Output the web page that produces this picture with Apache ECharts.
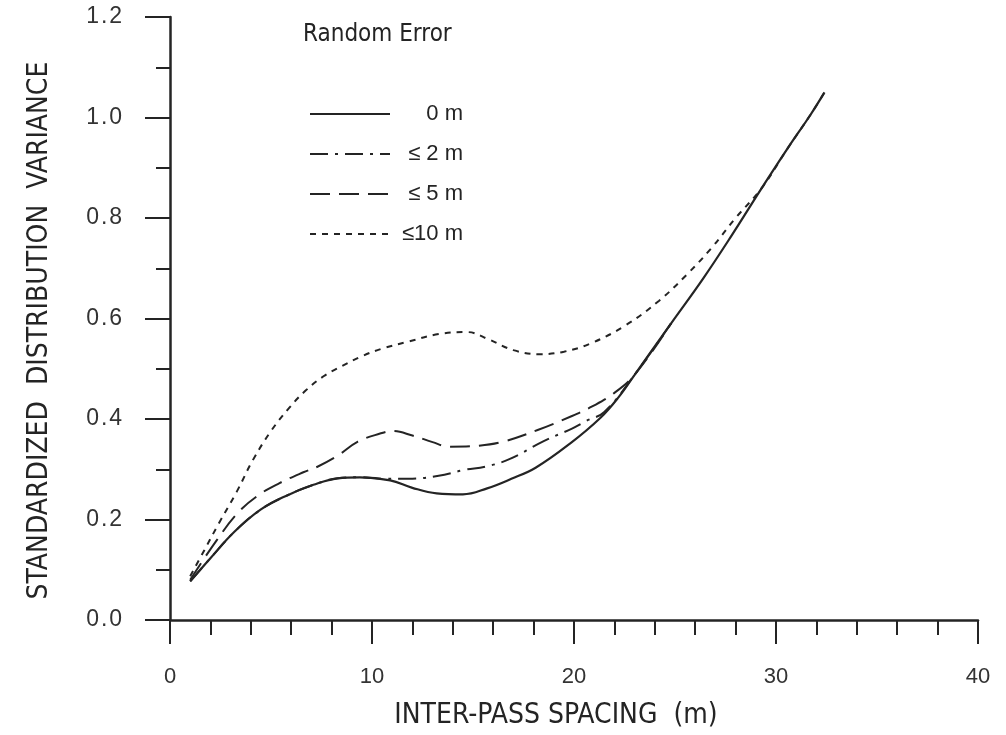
<!DOCTYPE html>
<html>
<head>
<meta charset="utf-8">
<title>Standardized distribution variance vs inter-pass spacing</title>
<script src="https://cdn.jsdelivr.net/npm/echarts@6/dist/echarts.min.js"></script>
<style>
  html, body { margin: 0; padding: 0; background: #fff; }
  #chart { width: 1006px; height: 735px; }
</style>
</head>
<body>
<div id="chart"></div>
<script>
// Random error 0 m
const spacing0 = [1.0, 2.0, 3.2, 4.5, 5.8, 7.1, 8.3, 9.4, 10.9, 12.0, 13.2, 14.5, 15.7, 16.9, 18.1, 19.8, 21.3, 22.2, 23.0, 24.8, 26.4, 27.8, 29.3, 30.6, 31.7, 32.4];
const variance0 = [0.077, 0.123, 0.176, 0.220, 0.248, 0.269, 0.282, 0.284, 0.278, 0.263, 0.252, 0.250, 0.262, 0.281, 0.303, 0.351, 0.402, 0.443, 0.488, 0.590, 0.680, 0.765, 0.860, 0.940, 1.005, 1.050];

// Random error <= 2 m
const spacing2 = [1.0, 2.0, 3.2, 4.5, 5.8, 7.1, 8.3, 9.4, 10.6, 11.8, 13.3, 14.6, 15.6, 16.8, 18.5, 19.9, 20.6, 21.5, 23.0, 24.8];
const variance2 = [0.077, 0.123, 0.176, 0.220, 0.248, 0.269, 0.282, 0.284, 0.281, 0.281, 0.287, 0.299, 0.305, 0.320, 0.356, 0.381, 0.396, 0.414, 0.488, 0.590];

// Random error <= 5 m
const spacing5 = [1.0, 2.3, 3.4, 4.4, 5.4, 6.6, 7.3, 8.3, 9.3, 10.4, 11.0, 12.0, 13.0, 13.8, 15.3, 16.5, 18.2, 19.9, 20.9, 21.9, 23.0, 24.8];
const variance5 = [0.080, 0.158, 0.215, 0.249, 0.272, 0.294, 0.305, 0.327, 0.355, 0.371, 0.376, 0.367, 0.354, 0.345, 0.347, 0.355, 0.378, 0.406, 0.425, 0.449, 0.488, 0.590];

// Random error <= 10 m
const spacing10 = [1.0, 1.7, 2.4, 3.3, 4.1, 5.0, 5.9, 6.7, 7.6, 8.5, 9.5, 10.5, 11.8, 13.3, 14.7, 15.8, 17.0, 18.3, 19.5, 20.8, 22.5, 24.2, 25.6, 26.8, 28.0, 29.3, 30.6, 31.7, 32.4];
const variance10 = [0.087, 0.139, 0.191, 0.255, 0.318, 0.376, 0.422, 0.456, 0.485, 0.505, 0.525, 0.540, 0.554, 0.569, 0.573, 0.558, 0.537, 0.529, 0.534, 0.550, 0.585, 0.635, 0.688, 0.740, 0.800, 0.860, 0.940, 1.005, 1.050];

const seriesNames = ['0 m', '\u2264 2 m', '\u2264 5 m', '\u226410 m'];
const xTicks = [0, 10, 20, 30, 40];
const yTicks = [0, 0.2, 0.4, 0.6, 0.8, 1.0, 1.2];

const ink = '#242424';
const labelFont = "'Liberation Sans', 'DejaVu Sans', sans-serif";
const narrowFont = "'Liberation Sans Narrow', 'DejaVu Sans Condensed', 'Roboto Condensed', 'Liberation Sans', sans-serif";

const pairs = (xs, ys) => xs.map((x, i) => [x, ys[i]]);

// tick text drawn with a little air between characters
const spaced = s => s.split('').join('\u200A');

function lineSeries(name, xs, ys, dash, width) {
  return {
    name: name,
    type: 'line',
    data: pairs(xs, ys),
    smooth: 0.4,
    symbol: 'none',
    showSymbol: false,
    lineStyle: { color: ink, width: width, type: dash, cap: 'butt' },
    itemStyle: { color: ink },
    emphasis: { disabled: true },
    z: 3
  };
}

const chart = echarts.init(document.getElementById('chart'), null, { renderer: 'canvas' });

chart.setOption({
  animation: false,
  backgroundColor: '#ffffff',
  title: {
    text: 'Random Error',
    left: 298,
    top: 18,
    textStyle: { fontFamily: narrowFont, fontSize: 24, fontWeight: 'normal', color: ink }
  },
  legend: {
    orient: 'vertical',
    left: 304,
    top: 98,
    itemWidth: 80,
    itemHeight: 20,
    itemGap: 18,
    data: seriesNames,
    selectedMode: false,
    itemStyle: { opacity: 0 },
    formatter: name => '{r|' + name + '}',
    textStyle: {
      color: ink,
      fontFamily: labelFont,
      fontSize: 22,
      rich: { r: { width: 68, align: 'right', fontSize: 22, fontFamily: labelFont, color: ink } }
    }
  },
  grid: { left: 170, right: 28, top: 17, bottom: 111, containLabel: false },
  xAxis: {
    type: 'value',
    min: xTicks[0],
    max: xTicks[xTicks.length - 1],
    interval: 10,
    name: 'INTER-PASS SPACING  (m)',
    nameLocation: 'middle',
    nameGap: 82,
    nameTextStyle: { fontFamily: narrowFont, fontSize: 28, color: ink, padding: [0, 36, 0, 0] },
    axisLine: { show: true, onZero: false, lineStyle: { color: ink, width: 2.5 } },
    axisTick: { show: true, inside: false, length: 24, lineStyle: { color: ink, width: 2 } },
    minorTick: { show: true, splitNumber: 5, length: 15, lineStyle: { color: ink, width: 2 } },
    splitLine: { show: false },
    axisLabel: { margin: 46, fontFamily: labelFont, fontSize: 22, color: '#333' }
  },
  yAxis: {
    type: 'value',
    min: yTicks[0],
    max: yTicks[yTicks.length - 1],
    interval: 0.2,
    name: 'STANDARDIZED  DISTRIBUTION  VARIANCE',
    nameLocation: 'middle',
    nameGap: 116,
    nameTextStyle: { fontFamily: narrowFont, fontSize: 28, color: ink, padding: [0, 24, 0, 0] },
    axisLine: { show: true, onZero: false, lineStyle: { color: ink, width: 2.5 } },
    axisTick: { show: true, inside: false, length: 25, lineStyle: { color: ink, width: 2 } },
    minorTick: { show: true, splitNumber: 2, length: 14, lineStyle: { color: ink, width: 2 } },
    splitLine: { show: false },
    axisLabel: {
      margin: 48,
      fontFamily: labelFont,
      fontSize: 23,
      color: '#333',
      formatter: v => spaced(v.toFixed(1))
    }
  },
  series: [
    lineSeries(seriesNames[0], spacing0, variance0, 'solid', 2.2),
    lineSeries(seriesNames[1], spacing2, variance2, [18, 7, 3, 7], 2),
    lineSeries(seriesNames[2], spacing5, variance5, [20, 9], 2),
    lineSeries(seriesNames[3], spacing10, variance10, [6, 6], 2)
  ]
});
</script>
</body>
</html>
